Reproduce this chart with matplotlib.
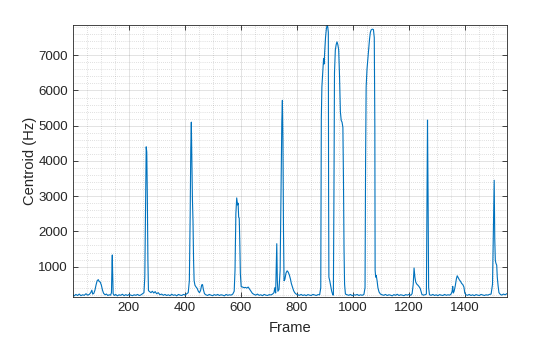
import numpy as np
import matplotlib
matplotlib.use('Agg')
from matplotlib import pyplot as plt
from matplotlib.ticker import MultipleLocator

# spectral centroid per frame (frame, Hz)
frames = [
    1, 6, 12, 18, 24, 30, 36, 42, 48, 54, 60, 65, 69, 72, 76, 80, 84, 88, 92, 95,
    99, 103, 107, 111, 116, 121, 126, 131, 136, 139, 141, 142, 143, 145, 149, 154, 160, 166, 172, 178,
    184, 190, 196, 202, 208, 214, 220, 226, 232, 238, 244, 250, 255, 258, 261, 263, 265, 267, 269, 271,
    275, 280, 285, 290, 295, 300, 306, 312, 318, 324, 330, 336, 342, 348, 354, 360, 366, 372, 378, 384,
    390, 396, 402, 408, 413, 417, 420, 422, 424, 426, 428, 430, 432, 434, 437, 441, 445, 449, 453, 457,
    461, 464, 467, 471, 476, 482, 488, 494, 500, 506, 512, 518, 524, 530, 536, 542, 548, 554, 560, 566,
    572, 577, 580, 583, 586, 589, 591, 593, 595, 597, 599, 602, 607, 612, 617, 622, 627, 632, 637, 642,
    648, 654, 660, 666, 672, 678, 684, 690, 696, 702, 708, 714, 719, 722, 725, 727, 729, 731, 733, 737,
    741, 744, 747, 749, 751, 753, 755, 758, 762, 766, 770, 774, 778, 781, 785, 789, 793, 798, 804, 810,
    816, 822, 828, 834, 840, 846, 852, 858, 864, 870, 876, 882, 886, 888, 890, 893, 896, 898, 900, 903,
    906, 909, 911, 913, 914, 915, 918, 921, 925, 929, 931, 933, 935, 938, 941, 944, 947, 950, 953, 956,
    959, 962, 965, 967, 969, 971, 974, 980, 986, 992, 998, 1004, 1010, 1016, 1022, 1028, 1034, 1040, 1044, 1046,
    1048, 1051, 1054, 1057, 1060, 1063, 1066, 1070, 1074, 1077, 1079, 1080, 1082, 1084, 1087, 1090, 1094, 1099, 1105, 1111,
    1117, 1123, 1129, 1135, 1141, 1147, 1153, 1159, 1165, 1171, 1177, 1183, 1189, 1195, 1201, 1207, 1212, 1216, 1219, 1222,
    1225, 1229, 1233, 1237, 1241, 1244, 1247, 1252, 1258, 1263, 1265, 1267, 1269, 1271, 1274, 1280, 1286, 1292, 1298, 1304,
    1310, 1316, 1322, 1328, 1334, 1340, 1346, 1351, 1355, 1357, 1359, 1362, 1366, 1370, 1373, 1377, 1381, 1385, 1389, 1393,
    1397, 1400, 1404, 1410, 1416, 1422, 1428, 1434, 1440, 1446, 1452, 1458, 1464, 1470, 1476, 1482, 1488, 1494, 1499, 1502,
    1505, 1507, 1509, 1511, 1514, 1516, 1519, 1522, 1527, 1532, 1538, 1544, 1550,
]
centroid = [
    200, 170, 210, 180, 220, 175, 200, 185, 230, 190, 210, 260, 330, 220, 240, 330, 480, 600, 630, 580,
    560, 470, 330, 240, 200, 220, 180, 200, 190, 260, 1100, 1330, 900, 230, 180, 210, 170, 200, 185, 215,
    175, 205, 180, 210, 190, 175, 200, 185, 210, 180, 195, 230, 260, 700, 2800, 4400, 4250, 3000, 1200, 320,
    290, 260, 300, 250, 290, 230, 260, 200, 220, 185, 210, 180, 200, 175, 215, 185, 200, 170, 210, 190,
    180, 210, 195, 230, 260, 600, 2500, 4300, 5100, 4000, 2900, 2300, 1200, 600, 470, 420, 380, 300, 260, 320,
    480, 490, 350, 230, 200, 180, 210, 190, 175, 205, 185, 210, 180, 200, 190, 170, 210, 185, 200, 190,
    220, 300, 900, 2500, 2950, 2750, 2800, 2400, 2380, 1700, 800, 430, 420, 400, 410, 390, 420, 360, 300, 240,
    210, 190, 220, 185, 200, 175, 210, 190, 180, 205, 195, 220, 260, 400, 250, 900, 1650, 600, 300, 350,
    900, 3000, 5100, 5720, 4600, 2000, 600, 640, 820, 880, 840, 760, 640, 520, 420, 320, 260, 220, 200, 185,
    210, 180, 200, 175, 205, 190, 180, 210, 195, 180, 205, 200, 400, 5200, 6100, 6500, 6900, 6750, 7100, 7500,
    7750, 7860, 7800, 7650, 3000, 700, 600, 470, 300, 200, 190, 3000, 6500, 7150, 7300, 7380, 7300, 7150, 6400, 5400,
    5150, 5100, 4950, 3500, 1500, 500, 220, 200, 185, 210, 175, 200, 190, 210, 180, 200, 185, 210, 400, 4000,
    6100, 6600, 6900, 7170, 7450, 7650, 7720, 7740, 7730, 7500, 5000, 900, 700, 750, 600, 400, 280, 220, 200, 185,
    210, 180, 200, 190, 170, 205, 185, 215, 180, 200, 190, 175, 205, 190, 210, 185, 230, 500, 960, 700,
    560, 500, 470, 430, 380, 300, 210, 190, 200, 220, 2500, 5160, 3000, 400, 200, 185, 210, 180, 200, 175,
    205, 190, 180, 210, 185, 200, 190, 220, 300, 440, 250, 300, 450, 650, 740, 680, 620, 580, 520, 490,
    420, 250, 200, 185, 210, 180, 200, 175, 205, 190, 180, 210, 195, 180, 200, 190, 210, 220, 500, 2000,
    3450, 1800, 1180, 1100, 1040, 700, 450, 260, 210, 190, 220, 200, 230,
]

fig = plt.figure(figsize=(5.6, 3.37), dpi=100)
ax = fig.add_axes([0.130, 0.119, 0.775, 0.807])
ax.plot(frames, centroid, color='#0072BD', lw=0.8)

ax.set_xlim(1, 1550)
ax.set_ylim(140, 7860)
ax.set_xticks([200, 400, 600, 800, 1000, 1200, 1400])
ax.set_yticks([1000, 2000, 3000, 4000, 5000, 6000, 7000])
ax.xaxis.set_minor_locator(MultipleLocator(50))
ax.yaxis.set_minor_locator(MultipleLocator(200))

ax.grid(True, which='major', color='#262626', alpha=0.15, lw=0.6)
ax.grid(True, which='minor', color='#262626', alpha=0.28, lw=0.5, linestyle=(0, (1, 2)))
ax.set_axisbelow(True)

ax.tick_params(which='major', direction='in', length=3.5, top=True, right=True,
               color='#262626', labelcolor='#262626', labelsize=9.6, width=0.6)
ax.tick_params(which='minor', length=0)
for s in ax.spines.values():
    s.set_color('#262626')
    s.set_linewidth(0.6)

for lab in ax.get_xticklabels() + ax.get_yticklabels():
    lab.set_family('Liberation Sans')
ax.set_xlabel('Frame', fontsize=10.6, color='#262626', family='Liberation Sans', labelpad=5)
ax.set_ylabel('Centroid (Hz)', fontsize=10.6, color='#262626', family='Liberation Sans', labelpad=1)

fig.savefig('out.png', dpi=100)
